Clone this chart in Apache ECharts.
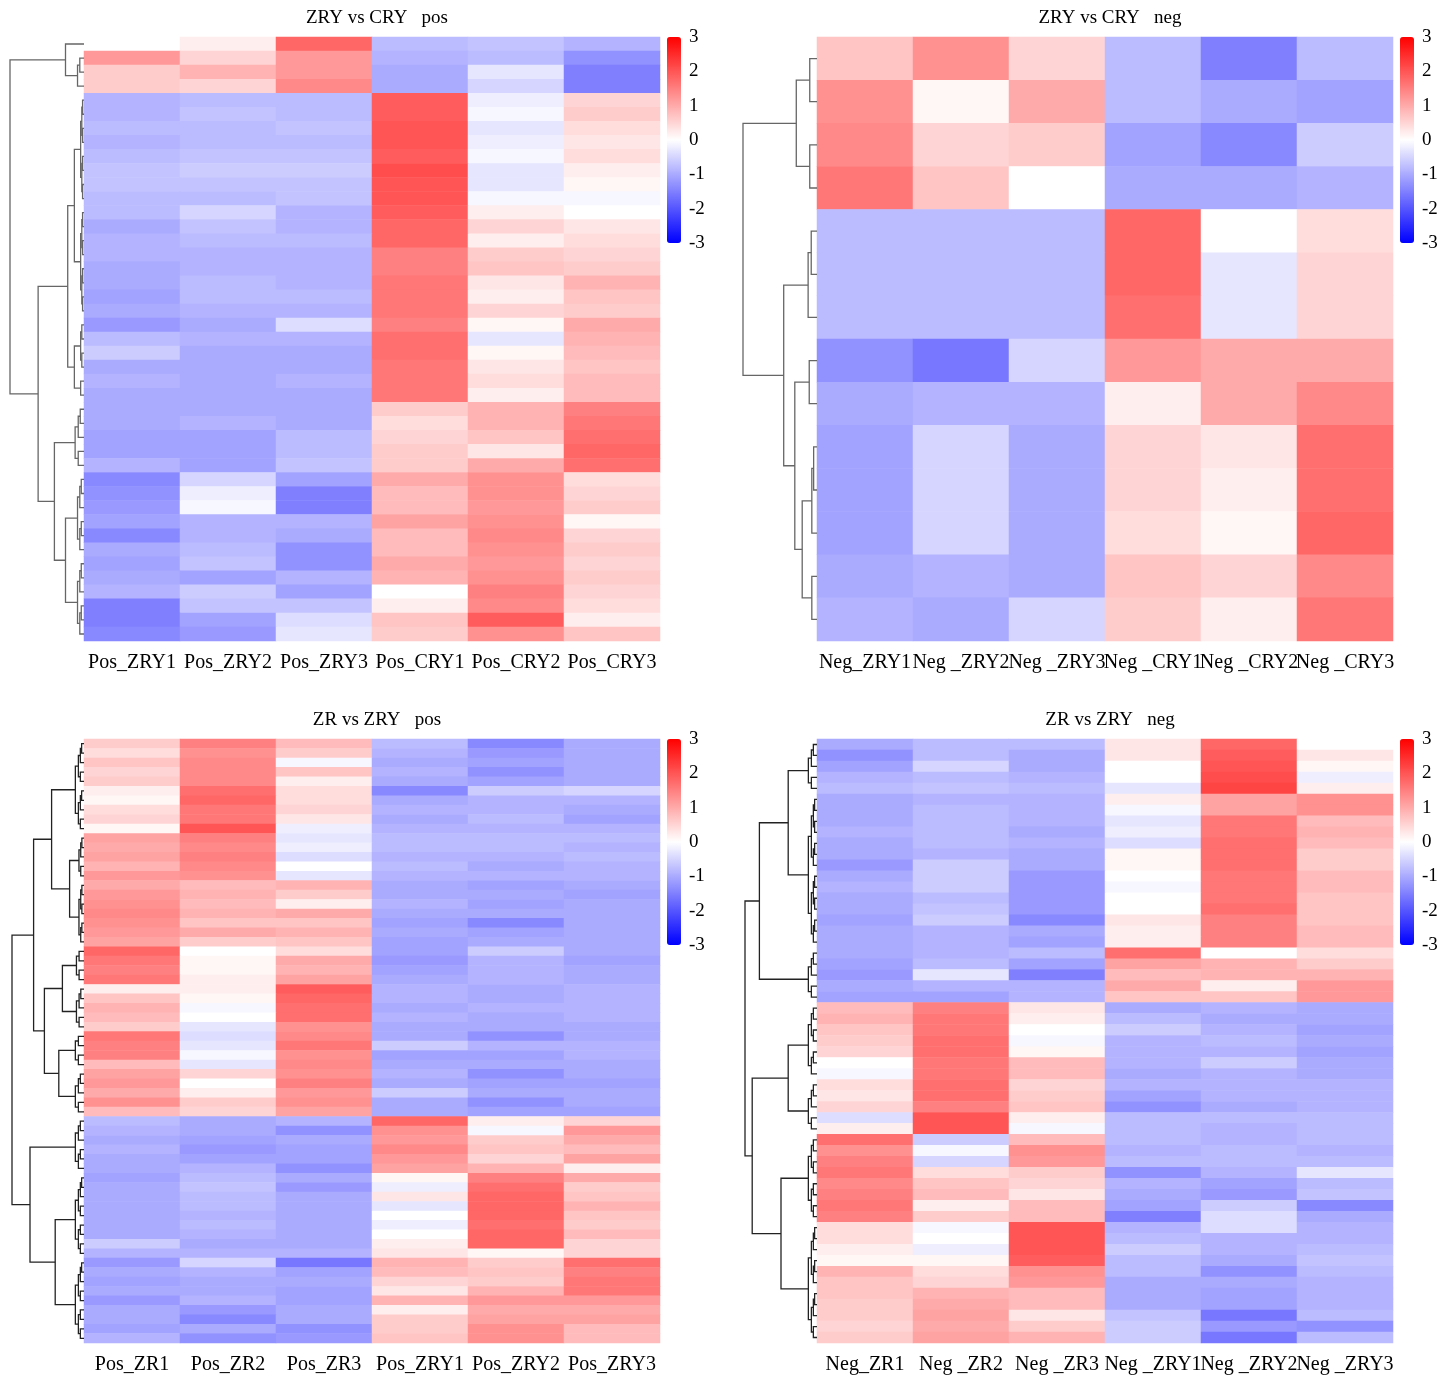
<!DOCTYPE html>
<html>
<head>
<meta charset="utf-8" />
<title>Heatmaps</title>
<script src="https://cdn.jsdelivr.net/npm/echarts@6.0.0/dist/echarts.min.js"></script>
<style>
  body { margin: 0; background: #fff; }
</style>
</head>
<body>
<div id="main" style="width:1445px;height:1383px;"></div>
<script type="text/javascript">
var titles = ['ZRY vs CRY   pos', 'ZRY vs CRY   neg', 'ZR vs ZRY   pos', 'ZR vs ZRY   neg'];
var cols1 = ['Pos_ZRY1', 'Pos_ZRY2', 'Pos_ZRY3', 'Pos_CRY1', 'Pos_CRY2', 'Pos_CRY3'];
var cols2 = ['Neg_ZRY1', 'Neg _ZRY2', 'Neg _ZRY3', 'Neg _CRY1', 'Neg _CRY2', 'Neg _CRY3'];
var cols3 = ['Pos_ZR1', 'Pos_ZR2', 'Pos_ZR3', 'Pos_ZRY1', 'Pos_ZRY2', 'Pos_ZRY3'];
var cols4 = ['Neg_ZR1', 'Neg _ZR2', 'Neg _ZR3', 'Neg _ZRY1', 'Neg _ZRY2', 'Neg _ZRY3'];
var scaleTicks = [-3, 3, 1];

var rows1 = [
  [0.0,0.2,1.8,-0.8,-0.7,-0.9],
  [1.2,0.5,1.2,-0.9,-0.8,-1.3],
  [0.6,0.9,1.2,-1.0,-0.3,-1.5],
  [0.6,0.5,1.4,-1.0,-0.5,-1.5],
  [-0.9,-0.8,-0.8,1.9,-0.2,0.5],
  [-0.9,-0.7,-0.8,1.9,-0.1,0.6],
  [-0.8,-0.8,-0.7,2.0,-0.3,0.4],
  [-0.9,-0.8,-0.8,2.0,-0.2,0.3],
  [-0.8,-0.7,-0.7,1.9,-0.1,0.4],
  [-0.7,-0.6,-0.6,2.1,-0.3,0.2],
  [-0.7,-0.7,-0.7,2.0,-0.3,0.1],
  [-0.8,-0.8,-0.7,2.0,-0.1,-0.1],
  [-0.8,-0.5,-0.9,1.9,0.2,0.0],
  [-1.0,-0.7,-0.9,1.8,0.5,0.3],
  [-0.9,-0.8,-0.8,1.8,0.2,0.4],
  [-0.9,-0.9,-0.9,1.5,0.6,0.5],
  [-1.0,-0.9,-0.9,1.5,0.7,0.6],
  [-1.0,-0.8,-0.9,1.6,0.3,0.9],
  [-1.1,-0.8,-0.8,1.6,0.2,0.7],
  [-1.0,-0.9,-0.9,1.6,0.5,0.6],
  [-1.2,-1.0,-0.4,1.5,0.1,1.0],
  [-0.8,-0.9,-0.9,1.7,-0.3,0.9],
  [-0.6,-1.0,-1.0,1.7,0.1,0.8],
  [-1.0,-1.0,-1.0,1.6,0.3,0.7],
  [-0.9,-1.0,-0.9,1.6,0.4,0.8],
  [-1.0,-1.0,-1.0,1.6,0.2,0.8],
  [-1.0,-1.0,-1.0,0.6,0.9,1.5],
  [-1.0,-0.9,-1.0,0.4,0.9,1.6],
  [-1.1,-1.1,-0.8,0.5,0.7,1.7],
  [-1.1,-1.1,-0.8,0.6,0.3,1.8],
  [-0.9,-1.1,-0.7,0.6,1.0,1.7],
  [-1.4,-0.5,-1.1,1.0,1.3,0.4],
  [-1.3,-0.2,-1.5,0.8,1.3,0.5],
  [-1.2,-0.1,-1.5,0.8,1.2,0.6],
  [-1.1,-0.9,-0.9,1.1,1.3,0.1],
  [-1.4,-0.9,-1.0,0.8,1.4,0.5],
  [-1.0,-0.8,-1.3,0.8,1.3,0.6],
  [-1.1,-0.7,-1.3,1.0,1.2,0.5],
  [-1.0,-1.1,-0.9,0.9,1.3,0.6],
  [-0.9,-0.6,-1.1,0.0,1.5,0.5],
  [-1.5,-0.7,-0.7,0.2,1.4,0.4],
  [-1.5,-1.1,-0.4,0.7,1.9,0.2],
  [-1.4,-1.2,-0.3,0.6,1.3,0.7]
];

var rows2 = [
  [0.7,1.3,0.5,-0.8,-1.5,-0.8],
  [1.3,0.1,1.0,-0.8,-1.0,-1.1],
  [1.4,0.5,0.6,-1.1,-1.4,-0.6],
  [1.6,0.7,0.0,-1.0,-1.0,-0.9],
  [-0.8,-0.8,-0.8,1.8,0.0,0.4],
  [-0.8,-0.8,-0.8,1.8,-0.3,0.5],
  [-0.8,-0.8,-0.8,1.7,-0.3,0.5],
  [-1.3,-1.6,-0.5,1.2,1.0,1.0],
  [-1.0,-0.9,-0.9,0.2,1.0,1.4],
  [-1.1,-0.5,-1.0,0.5,0.3,1.7],
  [-1.1,-0.5,-1.0,0.5,0.2,1.7],
  [-1.1,-0.5,-1.0,0.4,0.1,1.8],
  [-1.0,-0.9,-1.0,0.7,0.5,1.4],
  [-0.9,-1.0,-0.5,0.6,0.2,1.6]
];

var rows3 = [
  [0.6,1.5,0.8,-0.8,-1.4,-1.0],
  [0.4,1.3,0.6,-0.9,-1.2,-1.0],
  [0.7,1.4,-0.1,-1.0,-1.1,-1.0],
  [0.5,1.4,0.7,-0.9,-1.3,-1.0],
  [0.6,1.4,0.2,-1.0,-1.1,-1.0],
  [0.2,1.7,0.4,-1.4,-0.6,-0.5],
  [0.1,1.8,0.4,-1.0,-0.9,-0.9],
  [0.4,1.6,0.5,-0.9,-0.9,-1.0],
  [0.5,1.6,0.3,-1.0,-0.8,-1.1],
  [0.1,2.0,-0.2,-0.9,-0.9,-0.9],
  [1.1,1.5,-0.3,-0.8,-0.8,-0.8],
  [1.0,1.4,-0.2,-0.8,-0.8,-0.9],
  [1.1,1.5,-0.4,-0.9,-0.9,-0.8],
  [0.9,1.4,0.0,-0.8,-1.0,-0.9],
  [1.2,1.3,-0.3,-0.9,-0.9,-0.9],
  [1.0,0.8,0.9,-1.0,-1.1,-1.0],
  [1.2,0.9,0.6,-1.0,-1.0,-1.1],
  [1.3,0.8,0.2,-0.9,-1.1,-1.0],
  [1.4,0.9,1.0,-1.0,-1.0,-1.0],
  [1.3,0.7,0.7,-1.1,-1.4,-1.0],
  [1.2,1.0,0.9,-1.0,-1.1,-1.0],
  [1.1,0.6,0.7,-1.1,-1.0,-1.0],
  [1.8,0.0,0.4,-1.1,-0.6,-1.0],
  [1.6,0.1,1.0,-1.2,-0.9,-1.1],
  [1.5,0.1,0.9,-1.1,-0.9,-1.0],
  [1.6,0.2,1.1,-1.0,-0.9,-1.0],
  [0.2,0.2,1.9,-0.9,-1.0,-0.9],
  [0.7,0.1,1.8,-0.9,-1.0,-0.9],
  [0.9,-0.1,1.7,-1.0,-0.9,-0.9],
  [0.8,0.0,1.7,-0.9,-1.0,-0.9],
  [0.6,-0.3,1.3,-1.0,-1.0,-1.0],
  [1.6,-0.4,1.4,-1.0,-1.3,-1.0],
  [1.5,-0.3,1.6,-0.6,-0.9,-0.9],
  [1.5,-0.1,1.3,-1.1,-1.1,-0.9],
  [0.8,-0.3,1.4,-1.0,-1.0,-1.0],
  [1.1,0.5,1.3,-0.9,-1.3,-1.0],
  [1.2,0.0,1.5,-1.0,-1.1,-1.1],
  [1.0,0.2,1.2,-0.6,-1.0,-1.0],
  [1.3,0.6,1.3,-1.0,-1.3,-1.0],
  [0.8,0.5,1.1,-1.0,-1.1,-1.1],
  [-0.8,-1.0,-0.9,1.8,0.2,0.5],
  [-0.9,-1.0,-1.3,1.3,-0.1,1.2],
  [-1.0,-1.1,-1.0,1.2,0.6,1.0],
  [-0.9,-1.2,-1.1,1.4,0.7,0.8],
  [-1.0,-1.1,-1.1,1.2,0.5,1.1],
  [-1.0,-0.9,-1.3,1.1,0.9,0.2],
  [-1.1,-0.8,-1.0,0.1,1.5,1.0],
  [-1.0,-0.7,-1.2,-0.2,1.7,0.6],
  [-1.0,-0.8,-1.0,0.3,1.8,0.7],
  [-1.0,-0.8,-1.0,-0.3,1.8,0.9],
  [-1.0,-0.9,-1.0,0.0,1.8,0.7],
  [-1.0,-0.8,-1.0,-0.2,1.7,0.6],
  [-1.0,-0.9,-1.0,0.0,1.8,0.8],
  [-0.6,-1.0,-1.0,0.2,1.8,0.5],
  [-0.9,-0.9,-0.9,0.3,0.1,0.5],
  [-1.2,-0.5,-1.6,0.9,0.6,1.7],
  [-1.0,-0.9,-1.1,0.8,0.7,1.5],
  [-1.1,-1.0,-1.0,0.5,0.6,1.6],
  [-1.0,-1.0,-1.1,0.3,0.9,1.6],
  [-1.2,-0.9,-1.1,0.9,1.2,1.2],
  [-1.0,-1.2,-1.0,0.2,1.0,1.0],
  [-1.0,-1.4,-1.0,0.6,1.1,1.1],
  [-1.1,-1.0,-1.3,0.6,1.3,0.8],
  [-0.9,-1.3,-1.2,0.7,1.3,0.8]
];

var rows4 = [
  [-1.0,-0.8,-0.8,0.3,1.8,0.0],
  [-1.3,-0.8,-1.0,0.3,1.9,0.3],
  [-1.1,-0.5,-1.0,0.0,2.0,0.1],
  [-0.9,-0.8,-0.9,0.0,2.1,-0.2],
  [-0.8,-0.7,-0.8,-0.3,2.2,0.2],
  [-1.0,-0.9,-0.9,0.2,1.1,1.3],
  [-1.0,-0.8,-0.9,-0.1,1.1,1.3],
  [-1.0,-0.8,-0.9,-0.3,1.6,0.8],
  [-0.9,-0.8,-1.0,-0.2,1.6,0.9],
  [-1.0,-0.8,-0.9,-0.4,1.7,0.8],
  [-1.0,-0.9,-1.0,0.1,1.7,0.6],
  [-1.2,-0.6,-1.0,0.1,1.7,0.6],
  [-1.0,-0.6,-1.2,0.0,1.6,0.8],
  [-0.9,-0.6,-1.2,-0.1,1.6,0.8],
  [-1.0,-0.8,-1.2,0.0,1.6,0.7],
  [-1.0,-0.7,-1.2,0.0,1.7,0.7],
  [-1.1,-0.6,-1.4,0.3,1.5,0.7],
  [-1.0,-0.9,-1.0,0.2,1.5,0.8],
  [-1.0,-0.9,-1.1,0.2,1.5,0.8],
  [-1.0,-0.9,-0.8,1.7,0.0,0.4],
  [-1.1,-0.8,-1.1,1.1,0.9,0.6],
  [-1.2,-0.3,-1.5,0.8,0.9,0.9],
  [-1.0,-0.9,-0.9,1.0,0.2,1.2],
  [-1.1,-1.1,-0.9,0.7,0.7,1.2],
  [0.8,1.5,0.3,-1.0,-0.9,-1.0],
  [0.9,1.6,0.2,-0.8,-1.0,-1.0],
  [0.7,1.6,0.0,-0.6,-0.9,-1.1],
  [0.6,1.7,-0.1,-0.9,-0.8,-1.0],
  [0.5,1.7,0.1,-0.9,-0.9,-1.1],
  [0.0,1.6,0.8,-0.9,-0.6,-1.0],
  [-0.1,1.6,0.8,-1.0,-0.9,-1.0],
  [0.4,1.7,0.5,-0.9,-0.9,-0.9],
  [0.3,1.7,0.6,-1.1,-0.9,-0.9],
  [0.5,1.5,0.7,-1.3,-1.0,-0.9],
  [-0.4,2.0,0.2,-0.8,-0.8,-0.8],
  [0.2,2.0,-0.1,-0.8,-0.9,-0.8],
  [1.7,-0.6,0.8,-0.8,-0.9,-0.8],
  [1.3,-0.1,1.3,-0.9,-0.8,-0.9],
  [1.5,-0.5,1.2,-0.8,-0.8,-0.8],
  [1.6,0.4,0.6,-1.3,-0.9,-0.3],
  [1.4,0.7,0.5,-0.9,-1.1,-0.8],
  [1.5,0.8,0.3,-1.0,-1.2,-0.7],
  [1.6,0.2,0.8,-1.1,-0.6,-1.4],
  [1.5,0.6,0.8,-1.5,-0.4,-1.0],
  [0.4,-0.1,2.0,-0.9,-0.4,-0.9],
  [0.4,0.0,2.0,-0.8,-0.9,-0.9],
  [0.2,-0.2,2.0,-0.6,-0.9,-0.8],
  [0.1,0.1,1.9,-0.8,-1.0,-0.7],
  [0.9,0.4,1.3,-0.8,-1.3,-0.8],
  [0.7,0.5,1.2,-1.0,-1.0,-0.9],
  [0.7,0.9,0.8,-1.0,-1.1,-0.9],
  [0.6,1.0,0.8,-1.0,-1.1,-0.9],
  [0.6,1.1,0.3,-0.7,-1.6,-0.8],
  [0.5,1.0,0.6,-0.6,-1.2,-1.3],
  [0.6,1.1,0.9,-0.6,-1.6,-0.8]
];

// row clustering trees: {h: merge height, c: [left, right]}, a number = a tight group of that many rows
var tree1 = {h: 1, c: [{h: 0.25, c: [1, 3]},
  {h: 0.62, c: [{h: 0.22, c: [{h: 0.13, c: [8, 8]}, {h: 0.13, c: [4, 2]}]},
                {h: 0.4, c: [5, {h: 0.25, c: [6, 6]}]}]}]};
var tree2 = {h: 1, c: [{h: 0.28, c: [2, 2]},
  {h: 0.45, c: [3, {h: 0.3, c: [2, {h: 0.2, c: [3, 2]}]}]}]};
var tree3 = {h: 1, c: [{h: 0.7, c: [{h: 0.45, c: [10, {h: 0.2, c: [5, 7]}]},
                                    {h: 0.55, c: [{h: 0.3, c: [4, 5]}, {h: 0.35, c: [4, 5]}]}]},
  {h: 0.75, c: [6, {h: 0.4, c: [9, 9]}]}]};
var tree4 = {h: 1, c: [{h: 0.8, c: [{h: 0.4, c: [5, 14]}, 5]},
  {h: 0.9, c: [{h: 0.4, c: [7, 5]}, {h: 0.5, c: [8, 11]}]}]};

function dendro(tree) {
  var links = [];
  function link(h, a, b) {
    links.push({coords: [[a.h, a.y], [h, a.y], [h, b.y], [b.h, b.y]]});
  }
  function auto(start, n, h) {
    if (n === 1) return {y: start + 0.5, h: 0, n: 1};
    var k = Math.ceil(n / 2);
    var a = auto(start, k, h * 0.65);
    var b = auto(start + k, n - k, h * 0.65);
    link(h, a, b);
    return {y: (a.y + b.y) / 2, h: h, n: n};
  }
  function walk(node, start, parentH) {
    if (typeof node === 'number') return auto(start, node, Math.min(0.12, parentH * 0.35));
    var a = walk(node.c[0], start, node.h);
    var b = walk(node.c[1], start + a.n, node.h);
    link(node.h, a, b);
    return {y: (a.y + b.y) / 2, h: node.h, n: a.n + b.n};
  }
  walk(tree, 0, 1);
  return links;
}

var panels = [
  {rows: rows1, cols: cols1, tree: tree1, left: 84, top: 37, dl: 10, lc: '#666'},
  {rows: rows2, cols: cols2, tree: tree2, left: 817, top: 37, dl: 743, lc: '#666'},
  {rows: rows3, cols: cols3, tree: tree3, left: 84, top: 739, dl: 12, lc: '#222'},
  {rows: rows4, cols: cols4, tree: tree4, left: 817, top: 739, dl: 745, lc: '#222'}
];

var font = 'Liberation Serif';
var option = {
  animation: false,
  title: [], grid: [], xAxis: [], yAxis: [], series: [], visualMap: []
};

panels.forEach(function (p, i) {
  var W = 576, H = 604;
  var g = option.grid.length;
  // heatmap
  option.grid.push({left: p.left, top: p.top, width: W, height: H});
  option.xAxis.push({type: 'category', gridIndex: g, data: p.cols,
    axisLine: {show: false}, axisTick: {show: false}, splitLine: {show: false},
    axisLabel: {fontFamily: font, fontSize: 20, color: '#000', margin: 12, interval: 0}});
  option.yAxis.push({type: 'category', gridIndex: g, inverse: true,
    data: p.rows.map(function (r, k) { return k; }), show: false});
  var data = [];
  p.rows.forEach(function (r, y) { r.forEach(function (v, x) { data.push([x, y, v]); }); });
  option.series.push({type: 'heatmap', xAxisIndex: g, yAxisIndex: g, data: data,
    emphasis: {disabled: true}});
  option.visualMap.push({type: 'continuous', min: -3, max: 3, seriesIndex: option.series.length - 1,
    calculable: false, showLabel: false, text: null, padding: 0,
    left: p.left + W + 7, top: p.top, itemWidth: 14, itemHeight: 206,
    inRange: {color: ['#0000ff', '#ffffff', '#ff0000']}});
  // colour bar tick labels
  option.grid.push({left: p.left + W + 7, top: p.top, width: 14, height: 206});
  option.xAxis.push({type: 'value', gridIndex: g + 1, show: false});
  option.yAxis.push({type: 'value', gridIndex: g + 1, min: scaleTicks[0], max: scaleTicks[1],
    interval: scaleTicks[2], position: 'right',
    axisLine: {show: false}, axisTick: {show: false}, splitLine: {show: false},
    axisLabel: {fontFamily: font, fontSize: 19, color: '#000', margin: 8}});
  // dendrogram
  option.grid.push({left: p.dl, top: p.top, width: p.left - p.dl, height: H});
  option.xAxis.push({type: 'value', gridIndex: g + 2, min: 0, max: 1, inverse: true, show: false});
  option.yAxis.push({type: 'value', gridIndex: g + 2, min: 0, max: p.rows.length, inverse: true, show: false});
  option.series.push({type: 'lines', coordinateSystem: 'cartesian2d', xAxisIndex: g + 2, yAxisIndex: g + 2,
    polyline: true, silent: true, data: dendro(p.tree),
    lineStyle: {color: p.lc, width: 1.3, opacity: 1}});
  option.title.push({text: titles[i], left: p.left + W / 2, textAlign: 'center', top: p.top - 33,
    textStyle: {fontFamily: font, fontSize: 19, fontWeight: 'normal', color: '#000'}});
});

var chart = echarts.init(document.getElementById('main'));
chart.setOption(option);
</script>
</body>
</html>
